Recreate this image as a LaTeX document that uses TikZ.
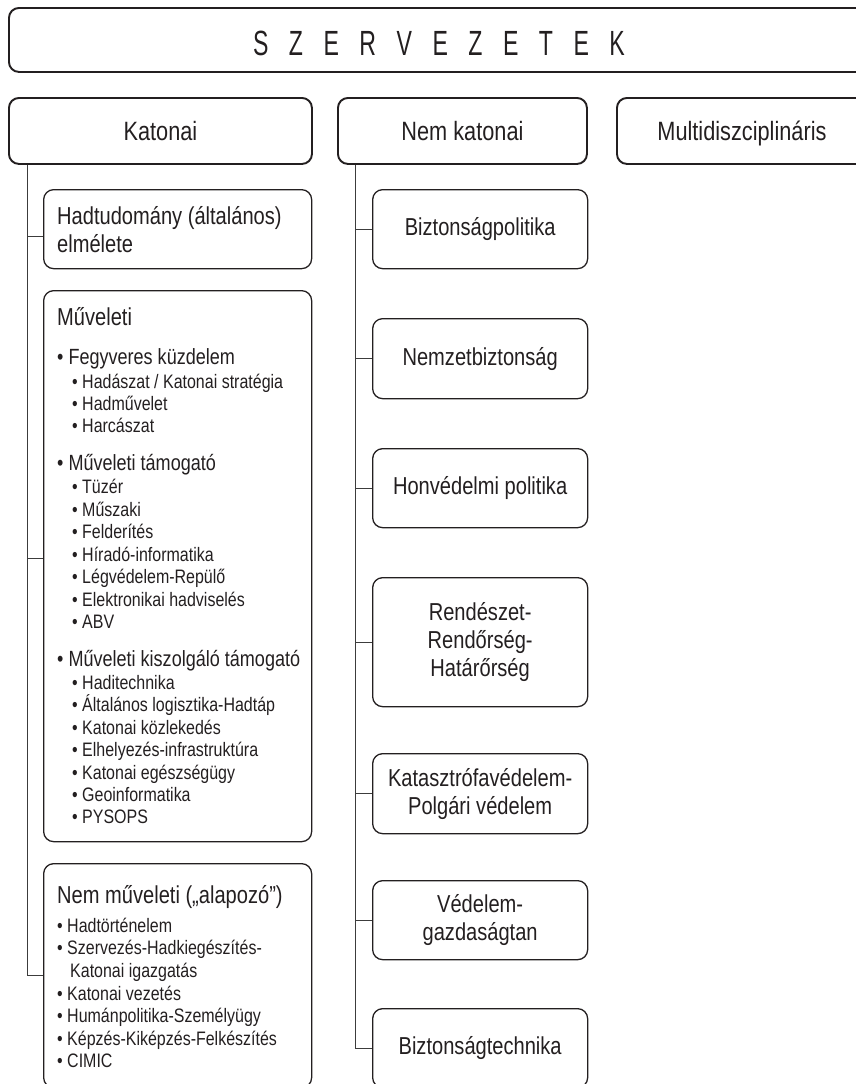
\documentclass[tikz,border=0pt]{standalone}
\usepackage{fontspec}
\setmainfont[FakeStretch=0.82]{Liberation Sans}
\newfontfamily\hdrfont[FakeStretch=0.66]{Liberation Sans}
\definecolor{ink}{HTML}{231F20}
\definecolor{lin}{HTML}{3C3C3C}
\newcommand\lsp{\hspace{20.5pt}}
\tikzset{
  bigbox/.style={draw=ink, line width=1.9pt, rounded corners=10pt, inner sep=0pt, anchor=north west, text=ink},
  subbox/.style={draw=ink, line width=1.3pt, rounded corners=10pt, inner sep=0pt, anchor=north west, text=ink},
  coltxt/.style={font=\fontsize{26.5}{30}\selectfont, text height=19pt, text depth=0pt},
  boxtxt/.style={font=\fontsize{24.5}{28}\selectfont, align=center},
  oneline/.style={text height=17.5pt, text depth=4.5pt},
  ttl/.style={anchor=base west, inner sep=0pt, text=ink, font=\fontsize{24.5}{28}\selectfont},
  mainitem/.style={anchor=base west, inner sep=0pt, text=ink, font=\fontsize{22}{26}\selectfont},
  subitem/.style={anchor=base west, inner sep=0pt, text=ink, font=\fontsize{19.5}{22}\selectfont},
  conn/.style={draw=lin, line width=1pt}
}
\begin{document}
\begin{tikzpicture}[x=1pt,y=-1pt]
\useasboundingbox (0,0) rectangle (856,1084);
\clip (0,0) rectangle (856,1084);
% header
\node[bigbox, minimum width=860pt, minimum height=64pt, font=\hdrfont\fontsize{35}{40}\selectfont, text height=32pt, text depth=0pt] (hdr) at (8,7)
  {S\lsp Z\lsp E\lsp R\lsp V\lsp E\lsp Z\lsp E\lsp T\lsp E\lsp K};
% column headers
\node[bigbox, coltxt, minimum width=303pt, minimum height=66pt] (kat) at (8,97) {Katonai};
\node[bigbox, coltxt, minimum width=249pt, minimum height=66pt] (nk) at (337,97) {Nem katonai};
\node[bigbox, coltxt, minimum width=250pt, minimum height=66pt] (multi) at (616,97) {Multidiszciplináris};
% left column boxes
\node[subbox, minimum width=268pt, minimum height=79pt] (hadtud) at (43,189) {};
\node[subbox, minimum width=268pt, minimum height=551pt] (muv) at (43,290) {};
\node[subbox, minimum width=268pt, minimum height=224pt] (nemmuv) at (43,863) {};
% left column texts
\node[ttl] (t1a) at (57,224) {Hadtudomány (általános)};
\node[ttl] (t1b) at (57,252) {elmélete};
\node[ttl] (t2) at (57,325) {Műveleti};
\node[mainitem] (m1) at (57,364) {• Fegyveres küzdelem};
\node[subitem] (s11) at (72,388) {• Hadászat / Katonai stratégia};
\node[subitem] (s12) at (72,410) {• Hadművelet};
\node[subitem] (s13) at (72,432) {• Harcászat};
\node[mainitem] (m2) at (57,470) {• Műveleti támogató};
\node[subitem] (s21) at (72,493) {• Tüzér};
\node[subitem] (s22) at (72,516) {• Műszaki};
\node[subitem] (s23) at (72,538) {• Felderítés};
\node[subitem] (s24) at (72,561) {• Híradó-informatika};
\node[subitem] (s25) at (72,583) {• Légvédelem-Repülő};
\node[subitem] (s26) at (72,606) {• Elektronikai hadviselés};
\node[subitem] (s27) at (72,628) {• ABV};
\node[mainitem] (m3) at (57,666) {• Műveleti kiszolgáló támogató};
\node[subitem] (s31) at (72,689) {• Haditechnika};
\node[subitem] (s32) at (72,711) {• Általános logisztika-Hadtáp};
\node[subitem] (s33) at (72,734) {• Katonai közlekedés};
\node[subitem] (s34) at (72,756) {• Elhelyezés-infrastruktúra};
\node[subitem] (s35) at (72,779) {• Katonai egészségügy};
\node[subitem] (s36) at (72,801) {• Geoinformatika};
\node[subitem] (s37) at (72,823) {• PYSOPS};
\node[ttl] (t3) at (57,903) {Nem műveleti („alapozó”)};
\node[subitem] (n1) at (57,932) {• Hadtörténelem};
\node[subitem] (n2) at (57,954) {• Szervezés-Hadkiegészítés-};
\node[subitem] (n2b) at (70,977) {Katonai igazgatás};
\node[subitem] (n3) at (57,1000) {• Katonai vezetés};
\node[subitem] (n4) at (57,1022) {• Humánpolitika-Személyügy};
\node[subitem] (n5) at (57,1045) {• Képzés-Kiképzés-Felkészítés};
\node[subitem] (n6) at (57,1067) {• CIMIC};
% right column boxes
\node[subbox, boxtxt, oneline, minimum width=215pt, minimum height=79pt] (bp) at (372,189) {Biztonságpolitika};
\node[subbox, boxtxt, oneline, minimum width=215pt, minimum height=80pt] (nb) at (372,318) {Nemzetbiztonság};
\node[subbox, boxtxt, oneline, minimum width=215pt, minimum height=79pt] (hp) at (372,448) {Honvédelmi politika};
\node[subbox, boxtxt, minimum width=215pt, minimum height=129pt] (rend) at (372,577) {Rendészet-\\Rendőrség-\\Határőrség};
\node[subbox, boxtxt, minimum width=215pt, minimum height=80pt] (katv) at (372,753) {Katasztrófavédelem-\\Polgári védelem};
\node[subbox, boxtxt, minimum width=215pt, minimum height=79pt] (ved) at (372,880) {Védelem-\\gazdaságtan};
\node[subbox, boxtxt, oneline, minimum width=215pt, minimum height=79pt] (bt) at (372,1008) {Biztonságtechnika};
% connectors
\coordinate (kx) at (27,0);
\coordinate (nx) at (355,0);
\coordinate (h1) at ([yshift=-7.5pt]hadtud.west);
\coordinate (h2) at ([yshift=7.5pt]muv.west);
\draw[conn] (kat.south -| kx) |- (nemmuv.west);
\draw[conn] (h1) -- (h1 -| kx);
\draw[conn] (h2) -- (h2 -| kx);
\draw[conn] (nk.south -| nx) |- (bt.west);
\foreach \b in {bp,nb,hp,rend,katv,ved}{
  \draw[conn] (\b.west) -- (\b.west -| nx);
}
\end{tikzpicture}
\end{document}
